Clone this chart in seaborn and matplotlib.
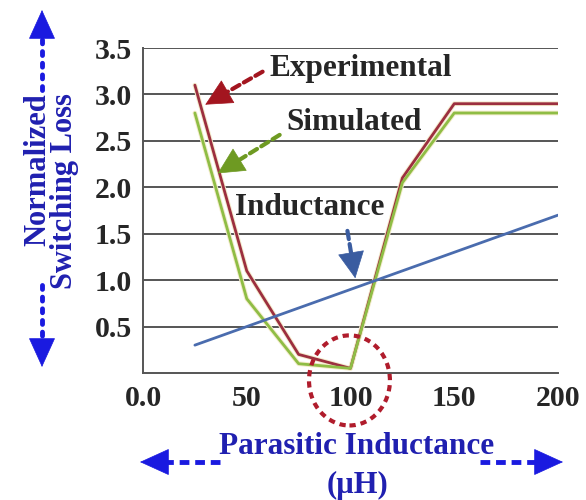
import pandas as pd
import matplotlib.pyplot as plt
import seaborn as sns
from matplotlib.patches import Ellipse

inductance_uh = [25, 50, 75, 100, 125, 150, 175, 200]
experimental = [3.1, 1.1, 0.2, 0.05, 2.1, 2.9, 2.9, 2.9]
simulated = [2.8, 0.8, 0.1, 0.05, 2.05, 2.8, 2.8, 2.8]
inductance = [0.3, 0.5, 0.7, 0.9, 1.1, 1.3, 1.5, 1.7]

x_ticks = [0, 25, 50, 75, 100, 125, 150, 175, 200]
x_ticklabels = ['0.0', '', '50', '', '100', '', '150', '', '200']
y_ticks = [0.5, 1.0, 1.5, 2.0, 2.5, 3.0, 3.5]
y_ticklabels = ['0.5', '1.0', '1.5', '2.0', '2.5', '3.0', '3.5']

df = pd.DataFrame({
    'x': inductance_uh * 3,
    'y': experimental + simulated + inductance,
    'series': ['Experimental'] * 8 + ['Simulated'] * 8 + ['Inductance'] * 8,
})

sns.set_style('white')
plt.rcParams['font.family'] = ['Liberation Serif', 'DejaVu Serif']
plt.rcParams['font.weight'] = 'bold'

W, H = 586, 500
fig = plt.figure(figsize=(W / 100, H / 100), dpi=100)
ax = fig.add_axes([143 / W, 1 - 373 / H, (558 - 143) / W, (373 - 48) / H])

def fx(px):
    return px / W

def fy(py):
    return 1 - py / H

colors = {'Experimental': '#9c2f3f', 'Simulated': '#8fbd45', 'Inductance': '#4a6cae'}

# faint halo under red/green lines
for name in ['Experimental', 'Simulated']:
    sub = df[df['series'] == name]
    ax.plot(sub['x'], sub['y'], color='#f4eccc', lw=3.4, zorder=2)
sns.lineplot(data=df, x='x', y='y', hue='series', palette=colors, lw=2.0,
             legend=False, ax=ax, zorder=3, sort=False)

ax.set_xlim(0, 200)
ax.set_ylim(0, 3.5)
ax.set_xticks(x_ticks)
ax.set_xticklabels(x_ticklabels, fontsize=21.5, fontweight='bold')
ax.set_yticks(y_ticks)
ax.set_yticklabels(y_ticklabels, fontsize=21.5, fontweight='bold')
ax.set_xlabel('')
ax.set_ylabel('')
ax.yaxis.grid(True, color='#555555', lw=1.4)
ax.tick_params(axis='both', direction='out', length=4, width=1.2, color='#555555', pad=4)
ax.tick_params(axis='x', pad=5)
for s in ['top', 'right']:
    ax.spines[s].set_visible(False)
for s in ['left', 'bottom']:
    ax.spines[s].set_color('#555555')
    ax.spines[s].set_linewidth(1.4)

# series annotations
notes = [
    ('Experimental', (61, 3.28), (58.8, 3.26), (30, 2.89), '#a3151f'),
    ('Simulated', (69, 2.70), (67.0, 2.58), (36, 2.15), '#6e9a22'),
    ('Inductance', (44.5, 1.78), (98.3, 1.56), (102.3, 1.02), '#3a5ca0'),
]
for label, txt, start, tip, c in notes:
    ax.text(txt[0], txt[1], label, fontsize=22.5, fontweight='bold', va='center', ha='left', zorder=5)
    mid = (start[0] + (tip[0] - start[0]) * 0.7, start[1] + (tip[1] - start[1]) * 0.7)
    ax.annotate('', xy=mid, xytext=start,
                arrowprops=dict(arrowstyle='-', color=c, lw=3, ls=(0, (2, 1.2))), zorder=5)
    ax.annotate('', xy=tip, xytext=mid,
                arrowprops=dict(arrowstyle='-|>,head_length=0.9,head_width=0.45',
                                color=c, lw=0.5, mutation_scale=20, shrinkA=0, shrinkB=0), zorder=5)

ax.add_patch(Ellipse((99.5, -0.08), 39, 0.97, fill=False, ec='#b01c2c', lw=3,
                     ls=(0, (1.5, 1.2)), clip_on=False, zorder=6))

# axis titles with arrows
txt_blue = '#2020b0'
arr_blue = '#1a1ae0'
fig.text(fx(51), fy(93), 'Normalized\nSwitching Loss', rotation=90, ha='center', va='top',
         multialignment='right', linespacing=0.88,
         fontsize=22, fontweight='bold', color=txt_blue)
fig.text(fx(357), fy(447), 'Parasitic Inductance', ha='center', va='center',
         fontsize=22.5, fontweight='bold', color=txt_blue)
fig.text(fx(357), fy(485), '(µH)', ha='center', va='center',
         fontsize=22, fontweight='bold', color=txt_blue)

def axis_arrow(p0, p1, tip, dotted):
    ls = (0, (0.8, 1.6)) if dotted else (0, (2, 1.2))
    fig.add_artist(plt.Line2D([fx(p0[0]), fx(p1[0])], [fy(p0[1]), fy(p1[1])],
                              color=arr_blue, lw=3.5, ls=ls,
                              dash_capstyle='round' if dotted else 'butt'))
    ax.annotate('', xy=(fx(tip[0]), fy(tip[1])), xytext=(fx(p1[0]), fy(p1[1])),
                xycoords='figure fraction', textcoords='figure fraction',
                arrowprops=dict(arrowstyle='-|>,head_length=1.1,head_width=0.5',
                                color=arr_blue, lw=0.5, mutation_scale=18,
                                shrinkA=0, shrinkB=0))

axis_arrow((42, 90), (42, 34), (42, 10), True)
axis_arrow((42, 285), (42, 342), (42, 367), True)
axis_arrow((220, 462), (165, 462), (140, 462), False)
axis_arrow((480, 462), (540, 462), (563, 462), False)

fig.savefig('out.png', dpi=100)
